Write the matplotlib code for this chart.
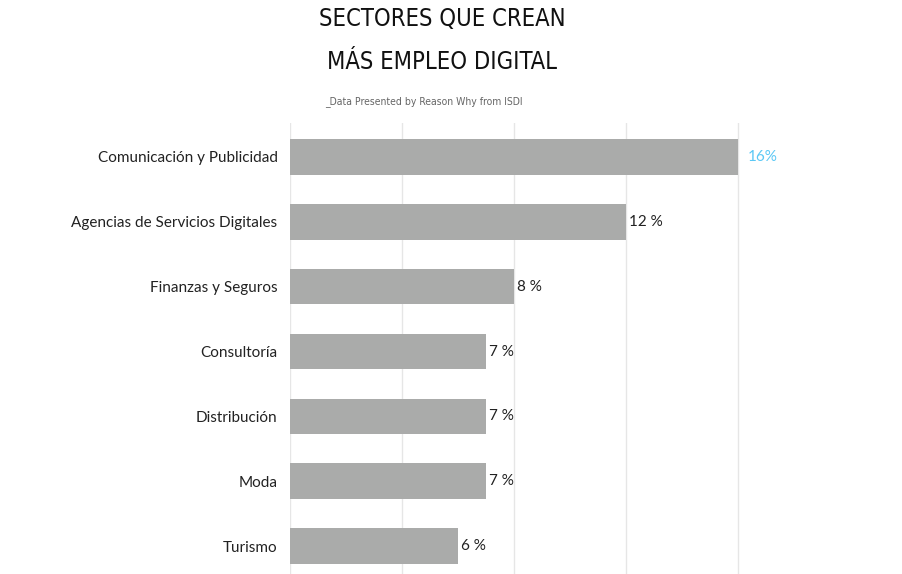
import matplotlib.pyplot as plt

# data
sectors = ["Comunicación y Publicidad", "Agencias de Servicios Digitales", "Finanzas y Seguros",
           "Consultoría", "Distribución", "Moda", "Turismo"]
values = [16, 12, 8, 7, 7, 7, 6]
value_labels = ["16%", "12 %", "8 %", "7 %", "7 %", "7 %", "6 %"]

fig = plt.figure(figsize=(9.02, 5.74), dpi=100)
ax = fig.add_axes([290 / 902, 0, 612 / 902, (574 - 123) / 574])

y = list(range(len(sectors)))
ax.barh(y, values, height=0.55, color="#aaabaa", zorder=2)
ax.set_ylim(len(sectors) - 1 + 0.43, -0.523)
ax.set_xlim(0, 612 / 112 * 4)
ax.set_xticks([0, 4, 8, 12, 16])
ax.xaxis.grid(True, color="#e6e6e6", lw=1, zorder=0)
ax.tick_params(length=0, labelbottom=False)
ax.set_yticks(y)
ax.set_yticklabels(sectors, fontsize=11, family="Lato", color="#222222")
ax.tick_params(axis="y", pad=9)
for s in ax.spines.values():
    s.set_visible(False)

for i, (v, lab) in enumerate(zip(values, value_labels)):
    ax.text(v + 0.1 if i else v + 0.35, i, lab, va="center", fontsize=11, family="Lato",
            color="#5bc8f5" if i == 0 else "#222222")

title_font = dict(family="DejaVu Sans", stretch="condensed", weight="light")
fig.text(442 / 902, 1 - 19 / 574, "SECTORES QUE CREAN", ha="center", va="center",
         fontsize=17, color="#111111", **title_font)
fig.text(442 / 902, 1 - 62 / 574, "MÁS EMPLEO DIGITAL", ha="center", va="center",
         fontsize=17, color="#111111", **title_font)
fig.text(424 / 902, 1 - 102 / 574, "_Data Presented by Reason Why from ISDI", ha="center",
         va="center", fontsize=7.5, color="#666666", **title_font)

fig.savefig("out.png", dpi=100)
